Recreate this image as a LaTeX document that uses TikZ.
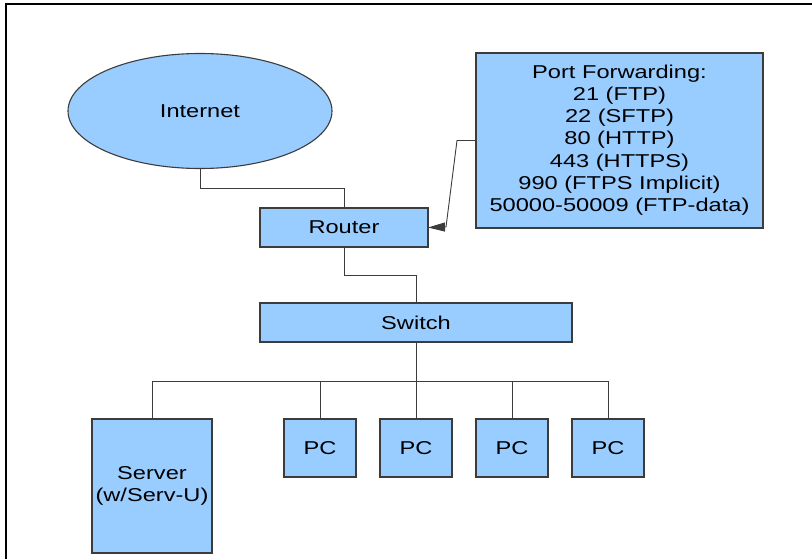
\documentclass[tikz,border=0pt]{standalone}
\usepackage{fontspec}
\setmainfont{Liberation Sans}
\usepackage{graphicx}
\usetikzlibrary{shapes.geometric,arrows.meta}

\definecolor{netblue}{HTML}{99CCFF}
\definecolor{netline}{HTML}{3C3C3C}
\newcommand{\wtxt}[1]{\scalebox{1.27}[1]{#1}}

\begin{document}
\begin{tikzpicture}[x=1pt,y=-1pt]
    \tikzset{netbox/.style = {draw = netline,
        fill            = netblue,
        line width      = 1.1pt,
        inner sep       = 0pt,
        outer sep       = 0pt,
        font            = \fontsize{18.6}{22.3}\selectfont
        },
        wire/.style     = {draw = netline, line width = 0.9pt}}

    \useasboundingbox (0,0) rectangle (812,559);

    % Frame of the page.
    \draw[line width=1.5pt] (6,559) -- (6,4) -- (812,4);

    % The boxes.
    \node[netbox, ellipse, minimum width=264pt, minimum height=115pt] (inet) at (200,111) {\wtxt{Internet}};
    \node[netbox, minimum width=168pt, minimum height=39pt] (router) at (344,227.5) {\wtxt{Router}};
    \node[netbox, minimum width=312pt, minimum height=39pt] (switch) at (416,322.5) {\wtxt{Switch}};
    \node[netbox, minimum width=287pt, minimum height=175pt] (ports) at (619.5,140.5)
        {\wtxt{\begin{tabular}{@{}c@{}}Port Forwarding:\\21 (FTP)\\22 (SFTP)\\80 (HTTP)\\443 (HTTPS)\\990 (FTPS Implicit)\\50000-50009 (FTP-data)\end{tabular}}};

    \node[netbox, minimum width=120pt, minimum height=134pt] (server) at (152,486) {\wtxt{\begin{tabular}{@{}c@{}}Server\\(w/Serv-U)\end{tabular}}};
    \foreach \i/\x in {1/320, 2/416, 3/512, 4/608}
        \node[netbox, minimum width=72pt, minimum height=58pt] (pc\i) at (\x,448) {\wtxt{PC}};

    % The wires.
    \draw[wire] (inet.south) -- ++(0,20) -| (router.north);
    \draw[wire] (router.south) -- ++(0,28) -| (switch.north);
    \draw[wire] (switch.south) -- (pc2.north);
    \draw[wire] (server.north) -- ++(0,-38) -| (pc4.north);
    \draw[wire] (pc1.north) -- ++(0,-38);
    \draw[wire] (pc3.north) -- ++(0,-38);

    % Forwarding arrow.
    \draw[wire, -{Triangle[length=17pt,width=9pt]}] (ports.west) -- ++(-19,0) -- ++(-11,86.5) -- (router.east);
\end{tikzpicture}
\end{document}
